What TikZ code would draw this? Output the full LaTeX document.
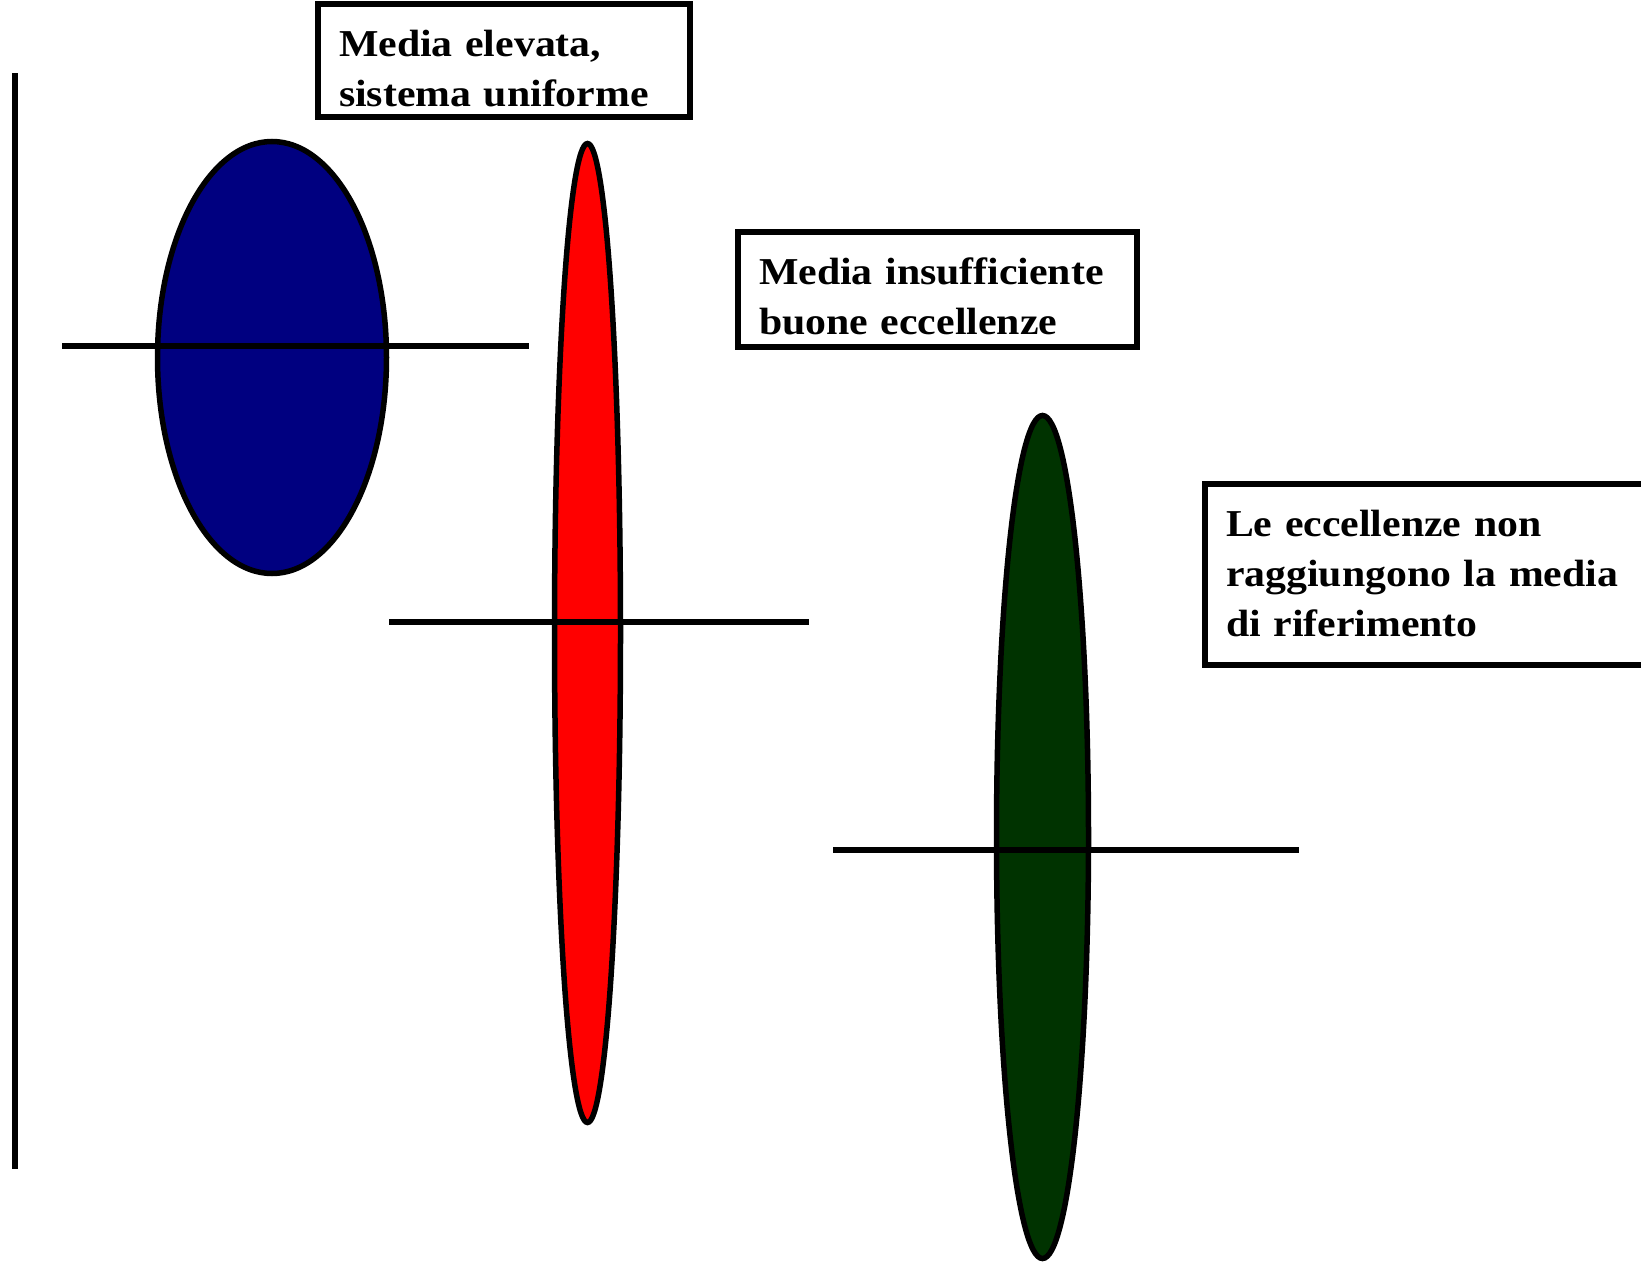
\documentclass[tikz,border=0pt]{standalone}
\usepackage{fontspec}
\setmainfont{Liberation Serif}[FakeStretch=1.1]
\usetikzlibrary{shapes.geometric}
\definecolor{ovalblue}{HTML}{000080}
\definecolor{ovalred}{HTML}{FF0000}
\definecolor{ovalgreen}{HTML}{003300}
\newcommand{\firstline}{\rule{0pt}{52pt}}
\newcommand{\lastdepth}[1]{\rule[-#1]{0pt}{#1}}
\begin{document}
\begin{tikzpicture}[x=1pt,y=-1pt,
  oval/.style={ellipse, draw=black, line width=5.5pt, inner sep=0pt, outer sep=0pt},
  rule/.style={draw=black, line width=6pt},
  box/.style={draw=black, line width=6pt, fill=white, anchor=north west,
    inner xsep=21pt, inner ysep=0pt, outer sep=0pt, align=left,
    font=\fontsize{38}{50}\selectfont\bfseries}]
\useasboundingbox (0,0) rectangle (1641,1261);
% axis
\coordinate (axtop) at (15,73);
\coordinate (axbot) at (15,1169);
\draw[rule] (axtop) -- (axbot);
% ellipses
\node[oval, fill=ovalblue, minimum width=229pt, minimum height=432pt] (blue) at (272,357.5) {};
\node[oval, fill=ovalred, minimum width=66pt, minimum height=979pt] (red) at (587.5,633) {};
\node[oval, fill=ovalgreen, minimum width=92pt, minimum height=843pt] (green) at (1042.5,837) {};
% mean lines
\coordinate (l1a) at (62,346);
\coordinate (l1b) at (529,346);
\coordinate (l2a) at (389,622);
\coordinate (l2b) at (809,622);
\coordinate (l3a) at (833,850);
\coordinate (l3b) at (1299,850);
\draw[rule] (l1a) -- (l1b);
\draw[rule] (l2a) -- (l2b);
\draw[rule] (l3a) -- (l3b);
% boxes
\node[box, minimum width=372pt, text width=330pt] (box1) at (318,4)
  {\firstline Media elevata,\\sistema uniforme\lastdepth{11pt}};
\node[box, minimum width=399pt, text width=357pt] (box2) at (738,232)
  {\firstline Media insufficiente\\buone eccellenze\lastdepth{13pt}};
\node[box, minimum width=460pt, text width=418pt] (box3) at (1205,484)
  {\firstline Le eccellenze non\\raggiungono la media\\di riferimento\lastdepth{29pt}};
\end{tikzpicture}
\end{document}
